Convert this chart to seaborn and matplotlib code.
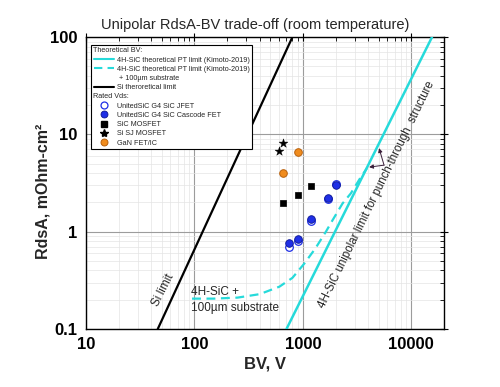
import numpy as np
import matplotlib
matplotlib.use("Agg")
import matplotlib.pyplot as plt
from matplotlib.lines import Line2D
from matplotlib.transforms import Affine2D
from matplotlib.ticker import LogLocator, NullFormatter
import seaborn as sns

# theoretical limit lines
si_bv = [45.9, 800]
si_ron = [0.1, 100]
sic_bv = [706, 15500]
sic_ron = [0.1, 100]
sic_sub_bv = [95, 150, 250, 400, 607, 800, 1030, 1300, 1630, 1875, 2320, 2770, 3400, 3900]
sic_sub_ron = [0.205, 0.205, 0.21, 0.228, 0.272, 0.335, 0.47, 0.67, 1.0, 1.31, 1.95, 2.48, 3.6, 4.5]

# devices at rated Vds
jfet_bv = [750, 900, 1200, 1700, 2000]
jfet_ron = [0.70, 0.80, 1.29, 2.15, 3.08]
cascode_bv = [750, 900, 1200, 1700, 2000]
cascode_ron = [0.76, 0.85, 1.35, 2.21, 2.99]
mosfet_bv = [650, 900, 1200]
mosfet_ron = [1.98, 2.38, 2.97]
sj_bv = [600, 650]
sj_ron = [6.7, 8.15]
gan_bv = [650, 900]
gan_ron = [3.97, 6.6]

xticks = [10, 100, 1000, 10000]
xtick_labels = ["10", "100", "1000", "10000"]
yticks = [0.1, 1, 10, 100]
ytick_labels = ["0.1", "1", "10", "100"]

cyan = "#26dada"
blue = "#1f2fe6"
orange = "#f08c1e"

sns.set_theme(style="white")
plt.rcParams["font.family"] = ["Liberation Sans", "DejaVu Sans"]

fig, ax = plt.subplots(figsize=(5, 3.87), dpi=100)
fig.subplots_adjust(left=0.172, right=0.888, top=0.904, bottom=0.150)
ax.set_xscale("log")
ax.set_yscale("log")

sns.lineplot(x=si_bv, y=si_ron, ax=ax, color="black", lw=1.6, zorder=3)
sns.lineplot(x=sic_bv, y=sic_ron, ax=ax, color=cyan, lw=1.8, zorder=3)
sns.lineplot(x=sic_sub_bv, y=sic_sub_ron, ax=ax, color=cyan, lw=1.6,
             linestyle=(0, (4, 2.5)), zorder=3)

sns.scatterplot(x=jfet_bv, y=jfet_ron, ax=ax, marker="o", s=30, color="white",
                edgecolor=blue, linewidth=0.9, zorder=4)
sns.scatterplot(x=cascode_bv, y=cascode_ron, ax=ax, marker="o", s=30, color=blue,
                edgecolor="#0c1690", linewidth=0.6, zorder=5)
sns.scatterplot(x=mosfet_bv, y=mosfet_ron, ax=ax, marker="s", s=24, color="black",
                edgecolor="black", linewidth=0.5, zorder=5)
sns.scatterplot(x=sj_bv, y=sj_ron, ax=ax, marker="*", s=45, color="black",
                edgecolor="black", linewidth=0.3, zorder=5)
sns.scatterplot(x=gan_bv, y=gan_ron, ax=ax, marker="o", s=30, color=orange,
                edgecolor="#b8600c", linewidth=0.7, zorder=5)

ax.set_xlim(10, 20000)
ax.set_ylim(0.1, 100)
ax.set_xticks(xticks)
ax.set_xticklabels(xtick_labels, fontweight="bold", fontsize=12)
ax.set_yticks(yticks)
ax.set_yticklabels(ytick_labels, fontweight="bold", fontsize=12)
for axis in (ax.xaxis, ax.yaxis):
    axis.set_minor_locator(LogLocator(base=10, subs=np.arange(2, 10) * 1.0, numticks=20))
    axis.set_minor_formatter(NullFormatter())
ax.tick_params(which="both", top=True, right=True, colors="black")
ax.tick_params(which="major", direction="inout", length=6, width=0.8, pad=3)
ax.tick_params(which="minor", direction="in", length=3, width=0.6)
ax.grid(which="major", color="#9c9c9c", lw=0.8)
ax.grid(which="minor", color="#e4e4e4", lw=0.5)
ax.set_axisbelow(True)
for sp in ax.spines.values():
    sp.set_color("black")
    sp.set_linewidth(1)

ax.set_xlabel("BV, V", fontweight="bold", fontsize=12, labelpad=3)
ax.set_ylabel("RdsA, mOhm-cm²", fontweight="bold", fontsize=11.5)
ax.yaxis.set_label_coords(-0.10, 0.47)
ax.set_title("Unipolar RdsA-BV trade-off (room temperature)", fontsize=10.5, x=0.473, pad=6)

ax.text(52, 0.25, "Si limit", rotation=63, ha="center", va="center", fontsize=8.5)
ax.text(93, 0.2, "4H-SiC +\n100µm substrate", ha="left", va="center", fontsize=8.5,
        linespacing=1.45)
ax.text(4830, 2.38, "4H-SiC unipolar limit for punch-through  structure", rotation=64,
        ha="center", va="center", fontsize=8.3)
for tip in [(5035, 7.23), (4075, 4.61)]:
    ax.annotate("", xy=tip, xytext=(5600, 4.83),
                arrowprops=dict(arrowstyle="-|>", color="#3a1f3a", lw=0.7,
                                mutation_scale=6, shrinkA=0, shrinkB=0))

handles = [
    Line2D([], [], ls="none"),
    Line2D([], [], color=cyan, lw=1.5),
    Line2D([], [], color=cyan, lw=1.5, ls=(0, (4, 2.5))),
    Line2D([], [], ls="none"),
    Line2D([], [], color="black", lw=1.5),
    Line2D([], [], ls="none"),
    Line2D([], [], ls="none", marker="o", ms=5, mfc="white", mec=blue, mew=0.9),
    Line2D([], [], ls="none", marker="o", ms=5, mfc=blue, mec="#0c1690", mew=0.6),
    Line2D([], [], ls="none", marker="s", ms=4.5, mfc="black", mec="black"),
    Line2D([], [], ls="none", marker="*", ms=6, mfc="black", mec="black"),
    Line2D([], [], ls="none", marker="o", ms=5, mfc=orange, mec="#b8600c", mew=0.7),
]
labels = [
    "Theoretical BV:",
    "4H-SiC theoretical PT limit (Kimoto-2019)",
    "4H-SiC theoretical PT limit (Kimoto-2019)",
    " + 100µm substrate",
    "Si theroretical limit",
    "Rated Vds:",
    "UnitedSiC G4 SiC JFET",
    "UnitedSiC G4 SiC Cascode FET",
    "SiC MOSFET",
    "Si SJ MOSFET",
    "GaN FET/IC",
]
leg = ax.legend(handles, labels, loc="upper left", bbox_to_anchor=(0.014, 0.974),
                borderaxespad=0, fontsize=5.2, frameon=True, fancybox=False,
                edgecolor="black", framealpha=1, handlelength=2.8, handletextpad=0.4,
                labelspacing=0.3, borderpad=0.35)
leg.get_frame().set_linewidth(0.8)
leg.set_zorder(10)

# headers start at the left edge of the legend box
fig.canvas.draw()
frame_x0 = leg.get_frame().get_window_extent().x0
for i in (0, 5):
    t = leg.get_texts()[i]
    dx = t.get_window_extent().x0 - (frame_x0 + 2)
    t.set_transform(t.get_transform() + Affine2D().translate(-dx, 0))

fig.savefig("out.png", dpi=100)
